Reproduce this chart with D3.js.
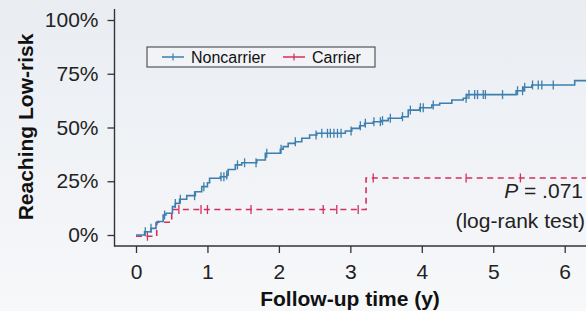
<!DOCTYPE html>
<html lang="en">
<head>
    <meta charset="UTF-8">
    <title>Reaching Low-risk by Carrier Status</title>
    <script src="https://d3js.org/d3.v7.min.js"></script>
    <style>
        body { margin: 0; font-family: "Liberation Sans", Arial, sans-serif; }
        svg { display: block; }
        .tick text { font-size: 21px; fill: #222; }
        .axis-label { font-size: 21px; font-weight: bold; fill: #111; }
    </style>
</head>
<body>
    <div id="chart"></div>

    <script>
        // follow-up time (y) at each step and cumulative % reaching low-risk after the step
        const noncarrierTime = [0, 0.12, 0.21, 0.28, 0.30, 0.38, 0.42, 0.51, 0.55, 0.61, 0.71, 0.83, 0.92, 1.00, 1.03,
            1.18, 1.27, 1.29, 1.39, 1.48, 1.69, 1.81, 2.02, 2.06, 2.13, 2.23, 2.32, 2.43, 2.53, 2.93, 3.02, 3.13,
            3.20, 3.32, 3.44, 3.53, 3.72, 3.81, 3.97, 4.14, 4.25, 4.42, 4.58, 4.63, 5.32, 5.42, 5.54, 6.14];
        const noncarrierPct = [0, 1.5, 3.1, 5.7, 6.3, 9.3, 10.1, 13.2, 14.7, 16.6, 18.3, 20.1, 22.5, 24.3, 26.4,
            27.1, 27.9, 30.5, 32.6, 33.6, 34.9, 38.0, 39.9, 41.1, 42.6, 43.4, 45.0, 46.5, 47.3, 48.4, 49.6, 50.8,
            52.0, 52.7, 53.2, 54.3, 55.0, 58.1, 59.2, 60.5, 61.3, 62.8, 63.6, 65.3, 67.1, 68.7, 69.8, 71.8];
        const noncarrierCensor = [0.13, 0.21, 0.40, 0.55, 0.62, 0.82, 0.95, 1.19, 1.23, 1.27, 1.42, 1.52, 1.68,
            1.83, 2.03, 2.23, 2.52, 2.60, 2.68, 2.72, 2.77, 2.82, 2.87, 3.01, 3.14, 3.21, 3.33, 3.42, 3.45, 3.56,
            3.73, 3.84, 3.98, 4.02, 4.16, 4.62, 4.66, 4.74, 4.78, 4.86, 4.89, 5.13, 5.34, 5.41, 5.44, 5.55, 5.63,
            5.68, 5.84];

        const carrierTime = [0, 0.29, 0.50, 3.22];
        const carrierPct = [0, 6.5, 12.4, 27.1];
        const carrierCensor = [0.16, 0.60, 0.91, 1.00, 1.61, 2.62, 2.81, 3.11, 3.32, 4.62, 5.38];

        const seriesNames = ["Noncarrier", "Carrier"];
        const timeTicks = [0, 1, 2, 3, 4, 5, 6];
        const pctTicks = [0, 25, 50, 75, 100];
        const endTime = 6.4;

        const width = 586, height = 311;

        const svg = d3.select("#chart")
            .append("svg")
            .attr("width", width)
            .attr("height", height);

        const grad = svg.append("defs").append("linearGradient")
            .attr("id", "bg")
            .attr("x1", 0).attr("y1", 0).attr("x2", 0).attr("y2", 1);
        grad.append("stop").attr("offset", "0%").attr("stop-color", "#e9edf2");
        grad.append("stop").attr("offset", "100%").attr("stop-color", "#f7f8fa");

        svg.append("rect")
            .attr("width", width)
            .attr("height", height)
            .attr("fill", "url(#bg)");

        const x = d3.scaleLinear().domain([0, 6]).range([136, 564.7]);
        const y = d3.scaleLinear().domain([0, 100]).range([235, 20]);

        // axes
        const yAxis = svg.append("g")
            .attr("transform", "translate(114.5,0)")
            .call(d3.axisLeft(y).tickValues(pctTicks).tickFormat(d => d + "%").tickSize(7).tickPadding(9));
        yAxis.select(".domain").remove();

        const xAxis = svg.append("g")
            .attr("transform", "translate(0,246)")
            .call(d3.axisBottom(x).tickValues(timeTicks).tickFormat(d3.format("d")).tickSize(7).tickPadding(11));
        xAxis.select(".domain").remove();

        svg.selectAll(".tick line").attr("stroke", "#333").attr("stroke-width", 1.3);

        svg.append("line")
            .attr("x1", 114.5).attr("x2", 114.5)
            .attr("y1", 9).attr("y2", 246.5)
            .attr("stroke", "#333").attr("stroke-width", 1.4);
        svg.append("line")
            .attr("x1", 114).attr("x2", width)
            .attr("y1", 246).attr("y2", 246)
            .attr("stroke", "#333").attr("stroke-width", 1.4);

        svg.append("text")
            .attr("class", "axis-label")
            .attr("x", 350)
            .attr("y", 306)
            .attr("text-anchor", "middle")
            .text("Follow-up time (y)");

        svg.append("text")
            .attr("class", "axis-label")
            .attr("transform", "translate(33,127) rotate(-90)")
            .attr("text-anchor", "middle")
            .text("Reaching Low-risk");

        // curves
        function buildSteps(times, pcts) {
            const pts = times.map((t, i) => [t, pcts[i]]);
            pts.push([endTime, pcts[pcts.length - 1]]);
            return pts;
        }

        function valueAt(times, pcts, t) {
            const i = d3.bisectRight(times, t) - 1;
            return pcts[Math.max(i, 0)];
        }

        const line = d3.line()
            .x(d => x(d[0]))
            .y(d => y(d[1]))
            .curve(d3.curveStepAfter);

        const series = [
            { name: seriesNames[0], times: noncarrierTime, pcts: noncarrierPct, censor: noncarrierCensor,
              color: "#3d7fae", dash: null, offset: 0 },
            { name: seriesNames[1], times: carrierTime, pcts: carrierPct, censor: carrierCensor,
              color: "#d42f5c", dash: "6,4.5", offset: 1.2 }
        ];

        // draw carrier first so noncarrier sits on top
        series.slice().reverse().forEach(s => {
            const g = svg.append("g").attr("transform", `translate(0,${s.offset})`);

            g.append("path")
                .datum(buildSteps(s.times, s.pcts))
                .attr("d", line)
                .attr("fill", "none")
                .attr("stroke", s.color)
                .attr("stroke-width", 1.6)
                .attr("stroke-dasharray", s.dash);

            g.selectAll("line.censor")
                .data(s.censor)
                .enter().append("line")
                .attr("class", "censor")
                .attr("x1", d => x(d))
                .attr("x2", d => x(d))
                .attr("y1", d => y(valueAt(s.times, s.pcts, d)) - 4.5)
                .attr("y2", d => y(valueAt(s.times, s.pcts, d)) + 4.5)
                .attr("stroke", s.color)
                .attr("stroke-width", 1.3);
        });

        // legend
        const legend = svg.append("g");
        legend.append("rect")
            .attr("x", 147).attr("y", 47)
            .attr("width", 228).attr("height", 20)
            .attr("fill", "#f1f3f6")
            .attr("stroke", "#555")
            .attr("stroke-width", 1.2);

        const legendX = [162, 283];
        series.forEach((s, i) => {
            const lx = legendX[i];
            legend.append("line")
                .attr("x1", lx).attr("x2", lx + 22)
                .attr("y1", 57).attr("y2", 57)
                .attr("stroke", s.color).attr("stroke-width", 1.5);
            legend.append("line")
                .attr("x1", lx + 11).attr("x2", lx + 11)
                .attr("y1", 53.5).attr("y2", 60.5)
                .attr("stroke", s.color).attr("stroke-width", 1.2);
            legend.append("text")
                .attr("x", lx + 29)
                .attr("y", 62.5)
                .attr("font-size", "16px")
                .attr("fill", "#111")
                .text(s.name);
        });

        // test annotation
        const pText = svg.append("text")
            .attr("x", 583)
            .attr("y", 198)
            .attr("text-anchor", "end")
            .attr("font-size", "21px")
            .attr("fill", "#222");
        pText.append("tspan").attr("font-style", "italic").text("P");
        pText.append("tspan").text(" = .071");

        svg.append("text")
            .attr("x", 585)
            .attr("y", 228)
            .attr("text-anchor", "end")
            .attr("font-size", "21px")
            .attr("fill", "#222")
            .text("(log-rank test)");
    </script>
</body>
</html>
